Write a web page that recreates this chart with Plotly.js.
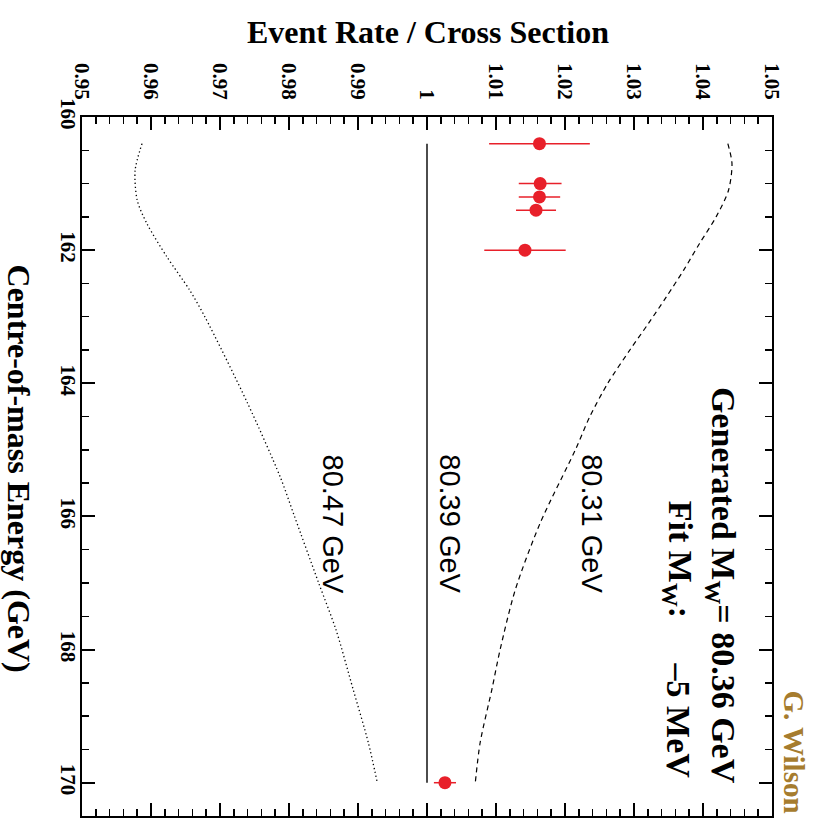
<!DOCTYPE html>
<html>
<head>
<meta charset="utf-8">
<script src="https://cdn.plot.ly/plotly-3.0.1.min.js"></script>
<style>
  html, body { margin: 0; padding: 0; background: #fff; }
  #chart { width: 814px; height: 825px; }
</style>
</head>
<body>
<div id="chart"></div>
<script>
// Ratio of event rate to cross section versus centre-of-mass energy,
// drawn turned on its side: energy runs down the page, the ratio runs across.

// Energy tick labels (GeV)
const energyTicks = [160, 162, 164, 166, 168, 170];
const energyTickText = ["160", "162", "164", "166", "168", "170"];

// Ratio tick labels
const ratioTicks = [0.95, 0.96, 0.97, 0.98, 0.99, 1.00, 1.01, 1.02, 1.03, 1.04, 1.05];
const ratioTickText = ["0.95", "0.96", "0.97", "0.98", "0.99", "1", "1.01", "1.02", "1.03", "1.04", "1.05"];

// Expected ratio for M_W = 80.31 GeV
const curveLowE = [160.4, 160.7, 161.1, 161.5, 161.9, 162.3, 162.7, 163.1, 163.5, 164.0, 164.5, 165.0, 166.1, 167.1, 168.0, 168.6, 169.4, 170.0];
const curveLowR = [1.0436, 1.0442, 1.0437, 1.0419, 1.0395, 1.0372, 1.0347, 1.0321, 1.0294, 1.0262, 1.0236, 1.0215, 1.0164, 1.0128, 1.0106, 1.0094, 1.0077, 1.0070];

// Expected ratio for M_W = 80.39 GeV
const curveMidE = [160.4, 170.0];
const curveMidR = [1.0, 1.0];

// Expected ratio for M_W = 80.47 GeV
const curveHighE = [160.4, 160.8, 161.25, 161.6, 162.1, 162.6, 163.0, 164.3, 165.4, 166.0, 167.0, 167.7, 168.6, 169.4, 170.0];
const curveHighR = [0.9587, 0.9577, 0.9580, 0.9594, 0.9623, 0.9656, 0.9678, 0.9740, 0.9787, 0.9808, 0.9843, 0.9868, 0.9893, 0.9915, 0.9928];

// Simulated measurements
const pointE = [160.4, 161.0, 161.2, 161.4, 162.0, 170.0];
const pointR = [1.0163, 1.0164, 1.0163, 1.0158, 1.0142, 1.0026];
const pointErr = [0.0073, 0.0031, 0.0030, 0.0029, 0.0059, 0.0016];

const curveLabels = ["80.31 GeV", "80.39 GeV", "80.47 GeV"];
const curveLabelR = [1.0240, 1.0034, 0.9864];
const curveLabelE = 166.11;

const serif = "Liberation Serif, Times New Roman, serif";
const sans = "Liberation Sans, Arial, Helvetica, sans-serif";
const red = "#e8202a";

const traces = [
  {
    x: curveLowR, y: curveLowE, type: "scatter", mode: "lines",
    line: { color: "#000", width: 1.2, dash: "5px,4px", shape: "spline", smoothing: 0.8 },
    hoverinfo: "skip"
  },
  {
    x: curveMidR, y: curveMidE, type: "scatter", mode: "lines",
    line: { color: "#000", width: 1.4 },
    hoverinfo: "skip"
  },
  {
    x: curveHighR, y: curveHighE, type: "scatter", mode: "lines",
    line: { color: "#000", width: 1.3, dash: "1.3px,2.7px", shape: "spline", smoothing: 0.8 },
    hoverinfo: "skip"
  },
  {
    x: pointR, y: pointE, type: "scatter", mode: "markers",
    marker: { color: red, size: 13 },
    error_x: { type: "data", array: pointErr, visible: true, color: red, thickness: 1.5, width: 0 },
    hoverinfo: "skip"
  }
];

const annotations = [
  {
    text: "Event Rate / Cross Section", xref: "paper", yref: "paper",
    x: 0.5014, y: 1.1216, xanchor: "center", yanchor: "middle", showarrow: false,
    font: { family: serif, size: 32, weight: 700, color: "#000" }
  },
  {
    text: "Centre-of-mass Energy (GeV)", xref: "paper", yref: "paper",
    x: -0.0899, y: 0.4971, xanchor: "center", yanchor: "middle", showarrow: false,
    textangle: 90,
    font: { family: serif, size: 32, weight: 700, color: "#000" }
  },
  {
    text: "Generated M<sub>W</sub>= 80.36 GeV", xref: "x", yref: "y",
    x: 1.0427, y: 170.05, xanchor: "center", yanchor: "bottom", showarrow: false,
    textangle: 90,
    font: { family: serif, size: 34, weight: 700, color: "#000" }
  },
  {
    text: "Fit M<sub>W</sub>:", xref: "x", yref: "y",
    x: 1.0364, y: 165.73, xanchor: "center", yanchor: "top", showarrow: false,
    textangle: 90,
    font: { family: serif, size: 34, weight: 700, color: "#000" }
  },
  {
    text: "\u20135 MeV", xref: "x", yref: "y",
    x: 1.0364, y: 169.97, xanchor: "center", yanchor: "bottom", showarrow: false,
    textangle: 90,
    font: { family: serif, size: 34, weight: 700, color: "#000" }
  },
  {
    text: "G. Wilson", xref: "paper", yref: "paper",
    x: 1.0333, y: 0.0, xanchor: "center", yanchor: "bottom", showarrow: false,
    textangle: 90,
    font: { family: serif, size: 29, weight: 700, color: "#a67c2e" }
  }
];

curveLabels.forEach(function (label, i) {
  annotations.push({
    text: label, xref: "x", yref: "y",
    x: curveLabelR[i], y: curveLabelE, xanchor: "center", yanchor: "middle",
    showarrow: false, textangle: 90,
    font: { family: sans, size: 29, color: "#000" }
  });
});

const axisCommon = {
  showline: true, linecolor: "#000", linewidth: 2,
  mirror: "ticks", ticks: "inside", ticklen: 13, tickwidth: 2, tickcolor: "#000",
  showgrid: false, zeroline: false, fixedrange: true,
  tickfont: { family: serif, size: 21, weight: 700, color: "#000" },
  tickangle: 90
};

const layout = {
  width: 814, height: 825,
  margin: { l: 82, r: 42, t: 117, b: 9, pad: 0 },
  paper_bgcolor: "#fff", plot_bgcolor: "#fff",
  showlegend: false,
  xaxis: Object.assign({}, axisCommon, {
    side: "top", range: [0.95, 1.05],
    tickmode: "array", tickvals: ratioTicks, ticktext: ratioTickText,
    ticklabelstandoff: 8,
    minor: { tickmode: "linear", tick0: 0.95, dtick: 0.002, ticks: "inside", ticklen: 7, tickwidth: 1.5, tickcolor: "#000", showgrid: false }
  }),
  yaxis: Object.assign({}, axisCommon, {
    range: [170.5, 160],
    tickmode: "array", tickvals: energyTicks, ticktext: energyTickText,
    ticklabelstandoff: -6,
    minor: { tickmode: "linear", tick0: 160, dtick: 0.5, ticks: "inside", ticklen: 7, tickwidth: 1.5, tickcolor: "#000", showgrid: false }
  }),
  annotations: annotations
};

Plotly.newPlot("chart", traces, layout, { staticPlot: true, displayModeBar: false });
</script>
</body>
</html>
